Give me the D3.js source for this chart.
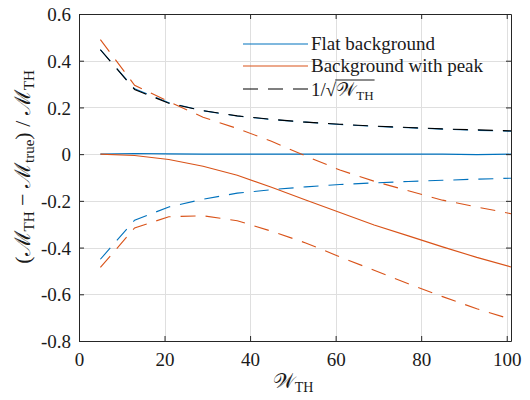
<!DOCTYPE html>
<html>
<head>
<meta charset="utf-8">
<script src="https://cdn.jsdelivr.net/npm/d3@7"></script>
<style>
html,body{margin:0;padding:0;background:#fff;}
svg{display:block;}
text{font-family:"Liberation Serif","DejaVu Serif",serif;}
</style>
</head>
<body>
<svg id="chart" width="530" height="400"></svg>
<script>
// ---- data ----
const xValues = [5, 13, 21, 29, 37, 45, 53, 61, 69, 77, 85, 93, 101];
const flatMean  = [0, 0.003, 0.001, 0, 0, 0, 0, 0, 0, 0, 0, -0.002, 0];
const flatUpper = [0.447, 0.280, 0.220, 0.186, 0.163, 0.148, 0.137, 0.127, 0.119, 0.113, 0.107, 0.102, 0.098];
const flatLower = [-0.450, -0.283, -0.226, -0.193, -0.167, -0.152, -0.140, -0.130, -0.123, -0.117, -0.112, -0.107, -0.103];
const peakMean  = [0, -0.006, -0.023, -0.052, -0.090, -0.142, -0.196, -0.250, -0.303, -0.350, -0.397, -0.442, -0.483];
const peakUpper = [0.490, 0.295, 0.225, 0.158, 0.110, 0.055, -0.008, -0.068, -0.116, -0.157, -0.197, -0.226, -0.255];
const peakLower = [-0.485, -0.316, -0.268, -0.264, -0.285, -0.330, -0.380, -0.440, -0.497, -0.555, -0.610, -0.662, -0.707];
const invSqrt   = [0.447, 0.277, 0.218, 0.186, 0.164, 0.149, 0.137, 0.128, 0.120, 0.114, 0.108, 0.104, 0.0995];
const xTicks = [0, 20, 40, 60, 80, 100];
const yTicks = [-0.8, -0.6, -0.4, -0.2, 0, 0.2, 0.4, 0.6];
const legendLabels = ["Flat background", "Background with peak"];

const BLUE = "#0072BD", ORANGE = "#D95319", AXIS = "#262626";

const svg = d3.select("#chart");
const L = 79, R = 511, T = 14, B = 341;
const x = d3.scaleLinear().domain([0, 101]).range([L, R]);
const y = d3.scaleLinear().domain([-0.8, 0.6]).range([B, T]);

// grid
const grid = svg.append("g").attr("stroke", "#dfdfdf").attr("stroke-width", 1);
grid.selectAll("line.gx").data(xTicks.filter(d => d > 0)).enter().append("line")
  .attr("x1", d => Math.round(x(d)) + 0.5).attr("x2", d => Math.round(x(d)) + 0.5)
  .attr("y1", T).attr("y2", B);
grid.selectAll("line.gy").data(yTicks).enter().append("line")
  .attr("y1", d => Math.round(y(d)) + 0.5).attr("y2", d => Math.round(y(d)) + 0.5)
  .attr("x1", L).attr("x2", R);

// lines
const line = ys => d3.line().x((d, i) => x(xValues[i])).y(d => y(d))(ys);
const series = [
  {v: flatMean, c: BLUE, dash: null},
  {v: peakMean, c: ORANGE, dash: null},
  {v: flatUpper, c: BLUE, dash: "15,10"},
  {v: flatLower, c: BLUE, dash: "15,10"},
  {v: peakUpper, c: ORANGE, dash: "15,10"},
  {v: peakLower, c: ORANGE, dash: "15,10"},
  {v: invSqrt, c: "#000", dash: "15,10"}
];
svg.append("g").selectAll("path").data(series).enter().append("path")
  .attr("d", d => line(d.v))
  .attr("fill", "none")
  .attr("stroke", d => d.c)
  .attr("stroke-width", 1.1)
  .attr("stroke-dasharray", d => d.dash);

// axes
const fmtY = d => d === 0 ? "0" : d3.format(".1f")(d).replace("−", "-");
const axB = svg.append("g").attr("transform", `translate(0,${B})`)
  .call(d3.axisBottom(x).tickValues(xTicks).tickSizeInner(-5).tickSizeOuter(0).tickPadding(12));
const axT = svg.append("g").attr("transform", `translate(0,${T})`)
  .call(d3.axisTop(x).tickValues(xTicks).tickSizeInner(-5).tickSizeOuter(0).tickFormat(""));
const axL = svg.append("g").attr("transform", `translate(${L},0)`)
  .call(d3.axisLeft(y).tickValues(yTicks).tickSizeInner(-5).tickSizeOuter(0).tickPadding(8).tickFormat(fmtY));
const axR = svg.append("g").attr("transform", `translate(${R},0)`)
  .call(d3.axisRight(y).tickValues(yTicks).tickSizeInner(-5).tickSizeOuter(0).tickFormat(""));
[axB, axT, axL, axR].forEach(a => {
  a.select(".domain").attr("stroke", AXIS).attr("stroke-width", 1);
  a.selectAll(".tick line").attr("stroke", AXIS);
  a.selectAll("text").attr("fill", "#1a1a1a").style("font-size", "19px")
    .style("font-family", "'Liberation Serif', serif");
});
axL.selectAll("text").attr("dy", "0.35em");
axB.selectAll("text").attr("dy", "0.71em");

// x label
const xl = svg.append("text").attr("x", 293).attr("y", 388).attr("text-anchor", "middle")
  .style("font-size", "21px").attr("fill", "#1a1a1a");
xl.append("tspan").text("𝒲");
xl.append("tspan").attr("dy", 4).style("font-size", "14px").text("TH");

// y label
const yl = svg.append("text").attr("transform", "translate(30,167) rotate(-90)")
  .attr("text-anchor", "middle").style("font-size", "22px").attr("fill", "#1a1a1a");
yl.append("tspan").text("(ℳ");
yl.append("tspan").attr("dy", 4).style("font-size", "15px").text("TH");
yl.append("tspan").attr("dy", -4).text(" − ℳ");
yl.append("tspan").attr("dy", 4).style("font-size", "15px").text("true");
yl.append("tspan").attr("dy", -4).text(") / ℳ");
yl.append("tspan").attr("dy", 4).style("font-size", "15px").text("TH");

// legend
const lg = svg.append("g");
const rowsY = [44, 66, 89];
legendLabels.forEach((lab, i) => {
  lg.append("line").attr("x1", 243).attr("x2", 308).attr("y1", rowsY[i]).attr("y2", rowsY[i])
    .attr("stroke", i === 0 ? BLUE : ORANGE).attr("stroke-width", 1.1);
  lg.append("text").attr("x", 311).attr("y", rowsY[i] + 6).style("font-size", "19px")
    .attr("fill", "#1a1a1a").text(lab);
});
lg.append("line").attr("x1", 243).attr("x2", 308).attr("y1", rowsY[2]).attr("y2", rowsY[2])
  .attr("stroke", "#000").attr("stroke-width", 1.1).attr("stroke-dasharray", "15,10");
const t3 = lg.append("text").attr("x", 311).attr("y", rowsY[2] + 7).style("font-size", "19px").attr("fill", "#1a1a1a");
t3.append("tspan").text("1/√");
t3.append("tspan").text("𝒲");
t3.append("tspan").attr("dy", 4).style("font-size", "13px").text("TH");
// overline for the radical
const startX = 311 + t3.select("tspan").node().getComputedTextLength();
const endX = 311 + t3.node().getComputedTextLength();
lg.append("line").attr("x1", startX - 1).attr("x2", endX + 1)
  .attr("y1", rowsY[2] - 9).attr("y2", rowsY[2] - 9).attr("stroke", "#1a1a1a").attr("stroke-width", 1);
</script>
</body>
</html>
